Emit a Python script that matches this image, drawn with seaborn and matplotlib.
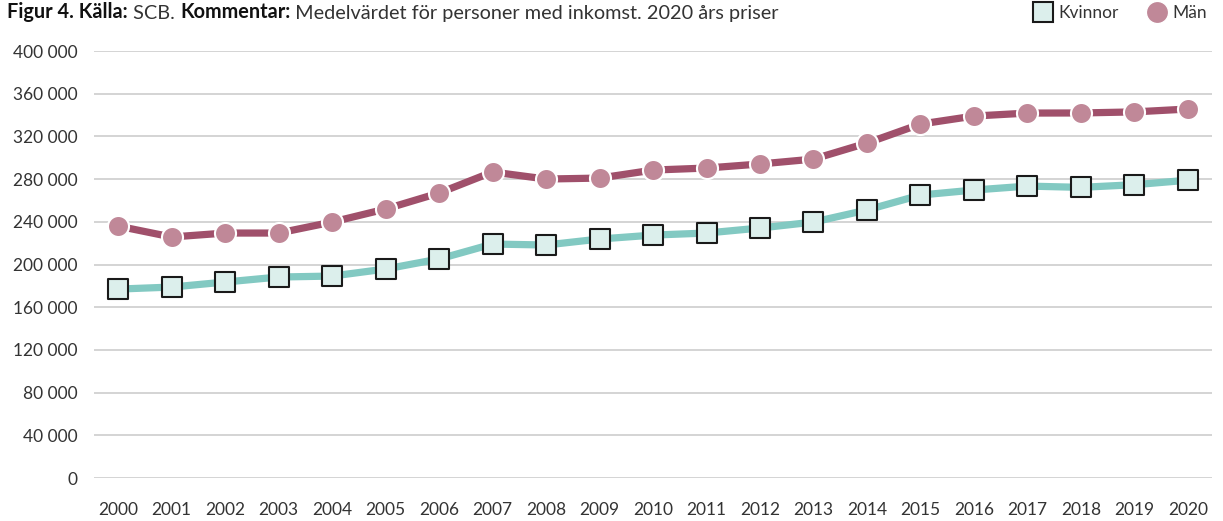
import pandas as pd
import seaborn as sns
import matplotlib.pyplot as plt
from matplotlib.lines import Line2D
from matplotlib.ticker import FixedLocator, FuncFormatter

# Data (medelvärde, 2020 års priser)
years = list(range(2000, 2021))
kvinnor = [177000, 178900, 183600, 188300, 189200, 195800, 205200, 219200, 218300, 223900,
           227600, 229500, 234200, 239800, 251100, 265100, 269800, 273500, 272300, 274800, 279000]
man = [236000, 225800, 229500, 229500, 239800, 252000, 267000, 286700, 280100, 281000,
       288500, 290400, 294200, 298800, 313800, 331600, 339100, 341900, 342000, 343000, 345700]
yticks = [0, 40000, 80000, 120000, 160000, 200000, 240000, 280000, 320000, 360000, 400000]

df = pd.DataFrame({
    'idx': list(range(len(years))) * 2,
    'value': kvinnor + man,
    'kon': ['Kvinnor'] * len(years) + ['Män'] * len(years),
})

line_colors = {'Kvinnor': '#82c9c2', 'Män': '#a0506b'}
fill_colors = {'Kvinnor': '#dcefec', 'Män': '#c08898'}
text_color = '#333333'

sns.set_style("white")
plt.rcParams['font.family'] = ['Lato', 'DejaVu Sans']

fig = plt.figure(figsize=(12.23, 5.21), dpi=100)
ax = fig.add_axes([0.0769, 0.0825, 0.9141, 0.8195])

# Lines
sns.lineplot(data=df, x='idx', y='value', hue='kon', palette=line_colors,
             linewidth=5.2, ax=ax, legend=False, zorder=3)

# Markers
kv = df[df['kon'] == 'Kvinnor']
mn = df[df['kon'] == 'Män']
sns.scatterplot(data=kv, x='idx', y='value', marker='s', s=220,
                color=fill_colors['Kvinnor'], edgecolor='#1a1a1a', linewidth=1.5,
                ax=ax, legend=False, zorder=4)
sns.scatterplot(data=mn, x='idx', y='value', marker='o', s=230,
                color=fill_colors['Män'], edgecolor='white', linewidth=1.5,
                ax=ax, legend=False, zorder=4)

# Axes formatting
ax.set_xlim(-0.45, len(years) - 0.55)
ax.set_ylim(0, 400000)
ax.set_yticks(yticks)
ax.yaxis.set_major_formatter(FuncFormatter(lambda v, p: f"{int(v):,}".replace(',', ' ')))
ax.grid(axis='y', color='#d4d4d4', linewidth=1.4)
ax.set_axisbelow(True)
for s in ax.spines.values():
    s.set_visible(False)

ax.set_xticks(range(len(years)))
ax.set_xticklabels([str(y) for y in years])
ax.xaxis.set_minor_locator(FixedLocator([i + 0.5 for i in range(len(years) - 1)]))
ax.tick_params(axis='x', which='major', length=0, pad=17, labelsize=12.5, labelcolor=text_color)
ax.tick_params(axis='x', which='minor', length=7.5, width=1, color='#d4d4d4', direction='in')
ax.tick_params(axis='y', length=0, pad=12, labelsize=12.5, labelcolor=text_color)
ax.set_xlabel('')
ax.set_ylabel('')

# Legend
handles = [
    Line2D([], [], linestyle='none', marker='s', markersize=15,
           markerfacecolor=fill_colors['Kvinnor'], markeredgecolor='#1a1a1a', markeredgewidth=1.5),
    Line2D([], [], linestyle='none', marker='o', markersize=16,
           markerfacecolor=fill_colors['Män'], markeredgecolor='white', markeredgewidth=1),
]
leg = fig.legend(handles, ['Kvinnor', 'Män'], loc='upper right', bbox_to_anchor=(1.0, 1.02),
                 ncol=2, frameon=False, fontsize=12.5, handletextpad=0.3, columnspacing=1.6,
                 handlelength=1.2)
for t in leg.get_texts():
    t.set_color(text_color)

# Title with mixed weights, pieces chained left to right
parts = [('Figur 4. Källa:', 'bold'), (' SCB. ', 'normal'), ('Kommentar:', 'bold'),
         (' Medelvärdet för personer med inkomst. 2020 års priser', 'normal')]
prev = fig.text(0.006, 1 - 22 / 521, parts[0][0], fontsize=14.3, fontweight='bold',
                color='#111111', va='bottom', ha='left')
for txt, w in parts[1:]:
    prev = ax.annotate(txt, xy=(1, 0), xycoords=prev, fontsize=14.3, fontweight=w,
                       color='#111111' if w == 'bold' else text_color,
                       va='bottom', ha='left', annotation_clip=False)

fig.savefig('out.png', dpi=100)
